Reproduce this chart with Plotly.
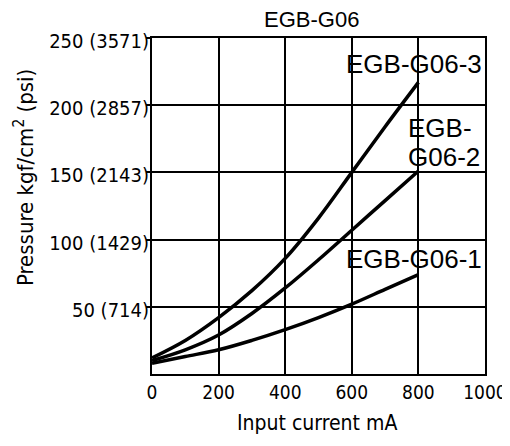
import plotly.graph_objects as go

current_ma = [0, 100, 200, 300, 400, 500, 600, 700, 800]
g06_3 = [12, 25, 42, 62, 86, 116, 150, 184, 217]
g06_2 = [10, 18, 29, 45, 64, 85, 107, 129, 151]
g06_1 = [8, 13, 18, 25, 33, 42, 52, 63, 74]

x_ticks = [0, 200, 400, 600, 800, 1000]
y_ticks = [50, 100, 150, 200, 250]
y_tick_text = ["50 (714)", "100 (1429)", "150 (2143)", "200 (2857)", "250 (3571)"]

series = [("EGB-G06-3", g06_3), ("EGB-G06-2", g06_2), ("EGB-G06-1", g06_1)]

narrow = "DejaVu Sans Condensed, Liberation Sans Narrow, Roboto, sans-serif"
sans = "Liberation Sans, Arial, sans-serif"
label_font = dict(family=sans, size=26, color="black")

fig = go.Figure()
for name, ys in series:
    fig.add_trace(go.Scatter(x=current_ma, y=ys, mode="lines", name=name,
                             line=dict(color="black", width=3.5, shape="spline", smoothing=1.0),
                             showlegend=False))

# curve labels
fig.add_annotation(x=996, y=231, xref="x", yref="y", text="EGB-G06-3", showarrow=False,
                   xanchor="right", yanchor="middle", font=label_font)
fig.add_annotation(x=763, y=183, xref="x", yref="y", text="EGB-", showarrow=False,
                   xanchor="left", yanchor="middle", font=label_font)
fig.add_annotation(x=763, y=161.5, xref="x", yref="y", text="G06-2", showarrow=False,
                   xanchor="left", yanchor="middle", font=label_font)
fig.add_annotation(x=996, y=85.5, xref="x", yref="y", text="EGB-G06-1", showarrow=False,
                   xanchor="right", yanchor="middle", font=label_font)

# title and axis titles as annotations for exact placement
fig.add_annotation(x=0.48, y=1, xref="paper", yref="paper", yshift=19, text="EGB-G06",
                   showarrow=False, xanchor="center", yanchor="middle",
                   font=dict(family=sans, size=22, color="black"))
fig.add_annotation(x=0, y=0.583, xref="paper", yref="paper", xshift=-128,
                   text="Pressure kgf/cm<sup>2</sup> (psi)", textangle=-90, showarrow=False,
                   xanchor="center", yanchor="middle",
                   font=dict(family=narrow, size=22, color="black"))
fig.add_annotation(x=0.495, y=0, xref="paper", yref="paper", yshift=-49,
                   text="Input current mA", showarrow=False, xanchor="center", yanchor="middle",
                   font=dict(family=narrow, size=21, color="black"))

fig.update_layout(
    width=502, height=438,
    margin=dict(l=144, r=25, t=30, b=72, autoexpand=False),
    paper_bgcolor="white", plot_bgcolor="white",
    xaxis=dict(range=[0, 1000], tickvals=x_ticks, showgrid=True, gridcolor="black", gridwidth=2,
               showline=True, linecolor="black", linewidth=2, mirror=True, zeroline=False,
               ticks="", automargin=False,
               tickfont=dict(family=narrow, size=19, color="black")),
    yaxis=dict(range=[0, 250], tickvals=y_ticks, ticktext=y_tick_text, showgrid=True,
               gridcolor="black", gridwidth=2, showline=True, linecolor="black", linewidth=2,
               mirror=True, zeroline=False, ticks="outside", ticklen=4, tickwidth=2,
               tickcolor="black", automargin=False, ticklabelstandoff=-7,
               ticklabelshift=3,
               tickfont=dict(family=narrow, size=20, color="black")),
)

fig.write_html("out.html")
